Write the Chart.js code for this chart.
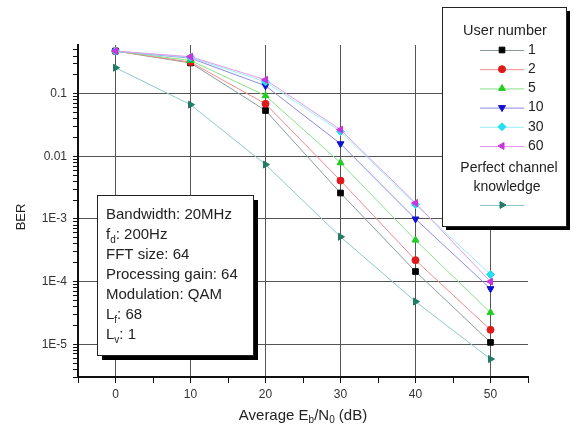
<!DOCTYPE html>
<html>
<head>
<meta charset="utf-8">
<script src="https://cdn.jsdelivr.net/npm/chart.js@4/dist/chart.umd.min.js"></script>
<style>
  html, body { margin: 0; padding: 0; background: #fff; }
  #wrap { width: 574px; height: 428px; }
</style>
</head>
<body>
<div id="wrap"><canvas id="berChart"></canvas></div>
<script>
// Average Eb/N0 (dB)
const snr = [0, 10, 20, 30, 40, 50];

// BER per user number
const ber1 = [0.48, 0.31, 0.054, 0.0026, 1.45e-4, 1.07e-5];
const ber2 = [0.48, 0.32, 0.069, 0.0041, 2.2e-4, 1.7e-5];
const ber5 = [0.48, 0.34, 0.093, 0.0079, 4.6e-4, 3.2e-5];
const ber10 = [0.48, 0.37, 0.134, 0.0159, 1.0e-3, 7.7e-5];
const ber30 = [0.48, 0.38, 0.155, 0.025, 1.7e-3, 1.3e-4];
const ber60 = [0.48, 0.39, 0.167, 0.0267, 1.8e-3, 1.0e-4];
const berPerfect = [0.26, 0.067, 0.0074, 5.2e-4, 4.8e-5, 5.8e-6];

const userLabels = ["1", "2", "5", "10", "30", "60"];
const yTickLabels = { "-1": "0.1", "-2": "0.01", "-3": "1E-3", "-4": "1E-4", "-5": "1E-5" };
const xTickLabels = ["0", "10", "20", "30", "40", "50"];
const infoLines = [
  ["Bandwidth: 20MHz"],
  ["f", "d", ": 200Hz"],
  ["FFT size: 64"],
  ["Processing gain: 64"],
  ["Modulation: QAM"],
  ["L", "f", ": 68"],
  ["L", "v", ": 1"],
];

const FONT = "'Liberation Sans', Arial, sans-serif";

const series = [
  { label: userLabels[0], data: ber1, color: "#000000", line: "#8a9a9a", style: "rect", rot: 0, r: 4 },
  { label: userLabels[1], data: ber2, color: "#e01818", line: "#f08a8a", style: "circle", rot: 0, r: 3.5 },
  { label: userLabels[2], data: ber5, color: "#22cc22", line: "#8ae08a", style: "triangle", rot: 0, r: 4 },
  { label: userLabels[3], data: ber10, color: "#1010d0", line: "#8a8ae8", style: "triangle", rot: 180, r: 4 },
  { label: userLabels[4], data: ber30, color: "#22e0f0", line: "#9aeef6", style: "rectRot", rot: 0, r: 4 },
  { label: userLabels[5], data: ber60, color: "#cc33dd", line: "#e09ae8", style: "triangle", rot: -90, r: 4 },
];
const perfect = { label: "Perfect channel knowledge", data: berPerfect, color: "#237a66", line: "#8cc8c8", style: "triangle", rot: 90, r: 4 };

const toXY = (arr) => arr.map((v, i) => ({ x: snr[i], y: v }));

const datasets = [...series, perfect].map((s, i) => ({
  label: s.label,
  data: toXY(s.data),
  borderColor: s.line,
  backgroundColor: s.color,
  pointBorderColor: s.color,
  pointBackgroundColor: s.color,
  pointStyle: s.style,
  pointRotation: s.rot,
  pointRadius: s.r,
  borderWidth: 1,
  tension: 0,
  order: i === 5 ? 0 : 10 - i,
}));

const isPow10 = (v) => Math.abs(Math.log10(v) - Math.round(Math.log10(v))) < 1e-6;

function drawBox(ctx, x, y, w, h, sh) {
  ctx.save();
  ctx.fillStyle = "#000";
  ctx.fillRect(x + sh, y + sh, w, h);
  ctx.fillStyle = "#fff";
  ctx.fillRect(x, y, w, h);
  ctx.strokeStyle = "#222";
  ctx.lineWidth = 1;
  ctx.strokeRect(x + 0.5, y + 0.5, w, h);
  ctx.restore();
}

const decorations = {
  id: "decorations",
  afterDraw(chart) {
    const ctx = chart.ctx;
    ctx.save();
    ctx.fillStyle = "#222";
    ctx.textBaseline = "middle";

    // y title
    ctx.save();
    ctx.translate(21, 217);
    ctx.rotate(-Math.PI / 2);
    ctx.font = "13px " + FONT;
    ctx.textAlign = "center";
    ctx.fillText("BER", 0, 0);
    ctx.restore();

    // x title with subscripts
    const parts = [["Average E", 15, 0], ["b", 10, 4], ["/N", 15, 0], ["0", 10, 4], [" (dB)", 15, 0]];
    let total = 0;
    parts.forEach((p) => { ctx.font = p[1] + "px " + FONT; total += ctx.measureText(p[0]).width; });
    let tx = 303 - total / 2;
    ctx.textAlign = "left";
    parts.forEach((p) => {
      ctx.font = p[1] + "px " + FONT;
      ctx.fillText(p[0], tx, 416 + p[2]);
      tx += ctx.measureText(p[0]).width;
    });

    // info box
    drawBox(ctx, 97, 195, 156, 160, 5);
    ctx.fillStyle = "#222";
    infoLines.forEach((ln, i) => {
      const y = 215 + i * 20;
      ctx.font = "15px " + FONT;
      let x = 106;
      ctx.fillText(ln[0], x, y);
      if (ln.length > 1) {
        x += ctx.measureText(ln[0]).width;
        ctx.font = "10px " + FONT;
        ctx.fillText(ln[1], x, y + 5);
        x += ctx.measureText(ln[1]).width;
        ctx.font = "15px " + FONT;
        ctx.fillText(ln[2], x, y);
      }
    });

    // legend box
    drawBox(ctx, 442, 7, 124, 219, 4);
    ctx.fillStyle = "#222";
    ctx.font = "14.5px " + FONT;
    ctx.textAlign = "center";
    ctx.fillText("User number", 505, 31);
    const drawSample = (s, y) => {
      ctx.save();
      ctx.strokeStyle = s.line;
      ctx.lineWidth = 1;
      ctx.beginPath();
      ctx.moveTo(480, y + 0.5);
      ctx.lineTo(524, y + 0.5);
      ctx.stroke();
      ctx.fillStyle = s.color;
      ctx.strokeStyle = s.color;
      Chart.helpers.drawPoint(ctx, { pointStyle: s.style, radius: s.r, rotation: s.rot, borderWidth: 1 }, 502, y);
      ctx.restore();
    };
    series.forEach((s, i) => {
      const y = 50 + i * 19.2;
      drawSample(s, y);
      ctx.fillStyle = "#222";
      ctx.font = "14px " + FONT;
      ctx.textAlign = "left";
      ctx.fillText(s.label, 528, y);
    });
    ctx.fillStyle = "#222";
    ctx.font = "14px " + FONT;
    ctx.textAlign = "center";
    ctx.fillText("Perfect channel", 509, 168);
    ctx.fillText("knowledge", 507, 187);
    drawSample(perfect, 205);

    ctx.restore();
  },
};

new Chart(document.getElementById("berChart"), {
  type: "line",
  data: { datasets },
  options: {
    responsive: true,
    maintainAspectRatio: false,
    animation: false,
    layout: { padding: { top: 45, right: 46, left: 0, bottom: 0 } },
    plugins: { legend: { display: false }, tooltip: { enabled: false } },
    scales: {
      x: {
        type: "linear",
        min: -5,
        max: 55,
        afterFit: (scale) => { scale.height = 51; },
        ticks: {
          stepSize: 5,
          autoSkip: false,
          maxRotation: 0,
          padding: 4,
          color: "#333",
          font: { family: FONT, size: 12 },
          callback: (v) => (v % 10 === 0 && v >= 0 && v <= 50 ? xTickLabels[v / 10] : ""),
        },
        grid: {
          color: (c) => (c.tick && c.tick.value % 10 === 0 && c.tick.value >= 0 && c.tick.value <= 50 ? "#555" : "rgba(0,0,0,0)"),
          tickColor: "#111",
          tickLength: 6,
          lineWidth: 1,
        },
        border: { color: "#111", width: 2 },
      },
      y: {
        type: "logarithmic",
        min: 3e-6,
        max: 0.6,
        afterFit: (scale) => { scale.width = 78; },
        afterBuildTicks: (scale) => {
          const t = [];
          for (let e = -6; e <= 0; e++) {
            for (let m = 1; m <= 9; m++) {
              const v = m * Math.pow(10, e);
              if (v >= 3e-6 && v <= 0.6) t.push({ value: v });
            }
          }
          scale.ticks = t;
        },
        ticks: {
          autoSkip: false,
          padding: 6,
          color: "#333",
          font: { family: FONT, size: 12 },
          callback: (v) => (isPow10(v) ? (yTickLabels[String(Math.round(Math.log10(v)))] || "") : ""),
        },
        grid: {
          color: (c) => (c.tick && isPow10(c.tick.value) ? "#555" : "rgba(0,0,0,0)"),
          tickColor: "#111",
          tickLength: 5,
          lineWidth: 1,
        },
        border: { color: "#111", width: 2 },
      },
    },
  },
  plugins: [decorations],
});
</script>
</body>
</html>
